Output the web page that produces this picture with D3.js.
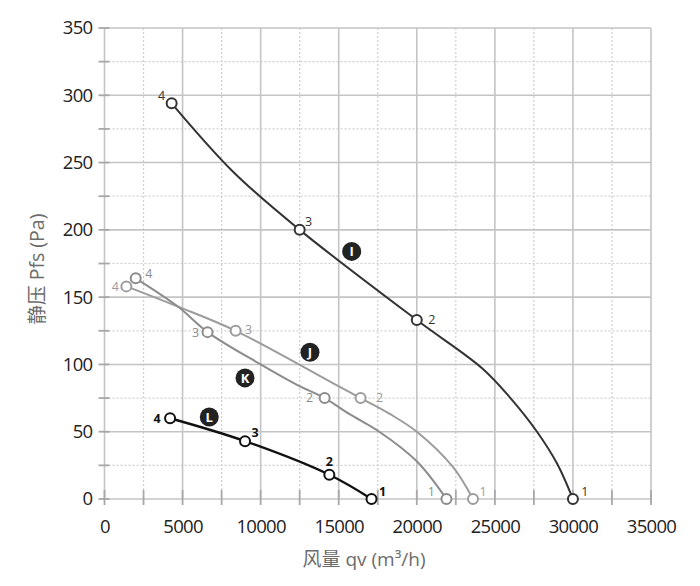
<!DOCTYPE html>
<html><head><meta charset="utf-8">
<script src="https://cdn.jsdelivr.net/npm/d3@7"></script>
<style>body{margin:0;background:#fff}svg{display:block}</style>
</head><body>
<svg id="c" width="700" height="586"></svg>
<script>
// ---- data ----
const xTicks = [0,5000,10000,15000,20000,25000,30000,35000];
const yTicks = [0,50,100,150,200,250,300,350];
const seriesNames = ["I","J","K","L"];
// traced curve points [airflow m3/h, static pressure Pa]
const curveI = [[4300,294],[8250,243],[12500,200],[20000,133],[24200,97],[26000,75],[27700,50],[29000,26],[30000,0]];
const curveJ = [[1400,158],[4700,143],[8400,125],[14650,86],[16400,75],[18300,63],[20000,50],[22300,24],[23600,0]];
const curveK = [[2000,164],[4700,143],[6600,124],[10000,100],[12300,85],[14100,75],[15700,63],[17600,50],[20000,28],[21900,0]];
const curveL = [[4200,60],[9000,43],[14400,18],[17100,0]];
// operating points 4,3,2,1
const pointsI = [[4300,294],[12500,200],[20000,133],[30000,0]];
const pointsJ = [[1400,158],[8400,125],[16400,75],[23600,0]];
const pointsK = [[2000,164],[6600,124],[14100,75],[21900,0]];
const pointsL = [[4200,60],[9000,43],[14400,18],[17100,0]];
const pointLabels = ["4","3","2","1"];
// curve badge anchor values
const badgeAt = {I:[15830,184], J:[13160,109], K:[9000,90], L:[6710,61]};

// ---- layout / style ----
const W=700,H=586, m={l:104.5,t:28,r:49,b:87};
const svg=d3.select("#c");
const x=d3.scaleLinear().domain([0,35000]).range([m.l,W-m.r]);
const y=d3.scaleLinear().domain([0,350]).range([H-m.b,m.t]);
const FONT="'Open Sans', 'Noto Sans CJK SC', sans-serif";
const style={
  I:{stroke:"#333",w:2,text:"#333",weight:"normal"},
  J:{stroke:"#9c9c9c",w:2,text:"#9c9c9c",weight:"normal"},
  K:{stroke:"#8c8c8c",w:2,text:"#8c8c8c",weight:"normal"},
  L:{stroke:"#111",w:2.4,text:"#111",weight:"bold"}
};
// label offsets (px) per point, in order 4,3,2,1
const labelOff={
  I:[[-10,-8],[9,-8],[15,0],[12,-7]],
  J:[[-11,0],[13,-1],[19,0],[10,-7]],
  K:[[13,-5],[-12,0],[-15,0],[-15,-7]],
  L:[[-13,0],[10,-9],[0,-13],[11,-7]]
};

const minorX=d3.range(2500,35000,5000), minorY=d3.range(25,350,50);
const g=svg.append("g");
g.selectAll(".mx").data(minorX).join("line")
  .attr("x1",d=>x(d)).attr("x2",d=>x(d)).attr("y1",y(350)).attr("y2",y(0))
  .attr("stroke","#cfcfcf").attr("stroke-width",1.2).attr("stroke-dasharray","2,2");
g.selectAll(".my").data(minorY).join("line")
  .attr("x1",x(0)).attr("x2",x(35000)).attr("y1",d=>y(d)).attr("y2",d=>y(d))
  .attr("stroke","#cfcfcf").attr("stroke-width",1.2).attr("stroke-dasharray","2,2");
g.selectAll(".Mx").data(xTicks).join("line")
  .attr("x1",d=>x(d)).attr("x2",d=>x(d)).attr("y1",y(350)).attr("y2",y(0))
  .attr("stroke","#c4c4c4").attr("stroke-width",1.6);
g.selectAll(".My").data(yTicks).join("line")
  .attr("x1",x(0)).attr("x2",x(35000)).attr("y1",d=>y(d)).attr("y2",d=>y(d))
  .attr("stroke","#c4c4c4").attr("stroke-width",1.6);
const allX=d3.range(0,35001,2500), allY=d3.range(0,351,25);
g.selectAll(".tx").data(allX).join("line")
  .attr("x1",d=>x(d)).attr("x2",d=>x(d)).attr("y1",y(0)-9).attr("y2",y(0)+6)
  .attr("stroke","#a8a8a8").attr("stroke-width",1.8);
g.selectAll(".ty").data(allY).join("line")
  .attr("x1",x(0)-6).attr("x2",x(0)+5).attr("y1",d=>y(d)).attr("y2",d=>y(d))
  .attr("stroke","#a8a8a8").attr("stroke-width",1.8);

const ax=svg.append("g").attr("transform",`translate(0,${y(0)})`)
  .call(d3.axisBottom(x).tickValues(xTicks).tickSize(0).tickPadding(21).tickFormat(d3.format("d")));
const ay=svg.append("g").attr("transform",`translate(${x(0)},0)`)
  .call(d3.axisLeft(y).tickValues(yTicks).tickSize(0).tickPadding(12).tickFormat(d3.format("d")));
[ax,ay].forEach(a=>{a.select(".domain").remove();
  a.selectAll("text").attr("font-family",FONT).attr("font-size",18.5).attr("fill","#222").style("letter-spacing","-0.7px");});

svg.append("text").attr("x",364).attr("y",566).attr("text-anchor","middle")
  .attr("font-family",FONT).attr("font-size",19).attr("fill","#6c6c6c").text("风量 qv (m³/h)");
svg.append("text").attr("transform","translate(44,269) rotate(-90)").attr("text-anchor","middle")
  .attr("font-family",FONT).attr("font-size",19.5).attr("fill","#6c6c6c").text("静压 Pfs (Pa)");

const curves={I:curveI,J:curveJ,K:curveK,L:curveL};
const pts={I:pointsI,J:pointsJ,K:pointsK,L:pointsL};
const line=d3.line().x(d=>x(d[0])).y(d=>y(d[1])).curve(d3.curveCatmullRom.alpha(0.5));
["J","K","I","L"].forEach(s=>{
  svg.append("path").attr("d",line(curves[s])).attr("fill","none")
    .attr("stroke",style[s].stroke).attr("stroke-width",style[s].w).attr("stroke-linejoin","round");
});
["J","K","I","L"].forEach(s=>{
  const gg=svg.append("g");
  gg.selectAll("circle").data(pts[s]).join("circle")
    .attr("cx",d=>x(d[0])).attr("cy",d=>y(d[1])).attr("r",5)
    .attr("fill","#fff").attr("stroke",style[s].stroke).attr("stroke-width",2);
  gg.selectAll("text").data(pts[s]).join("text")
    .attr("x",(d,i)=>x(d[0])+labelOff[s][i][0]).attr("y",(d,i)=>y(d[1])+labelOff[s][i][1])
    .attr("dy","0.35em").attr("text-anchor","middle")
    .attr("font-family",FONT).attr("font-size",12.5).attr("font-weight",style[s].weight)
    .attr("fill",style[s].text).text((d,i)=>pointLabels[i]);
});
seriesNames.forEach(s=>{
  const [bx,by]=badgeAt[s];
  svg.append("circle").attr("cx",x(bx)).attr("cy",y(by)).attr("r",9.5).attr("fill","#222");
  svg.append("text").attr("x",x(bx)).attr("y",y(by)).attr("dy","0.36em").attr("text-anchor","middle")
    .attr("font-family",FONT).attr("font-size",13).attr("font-weight","bold").attr("fill","#fff").text(s);
});
</script>
</body></html>
